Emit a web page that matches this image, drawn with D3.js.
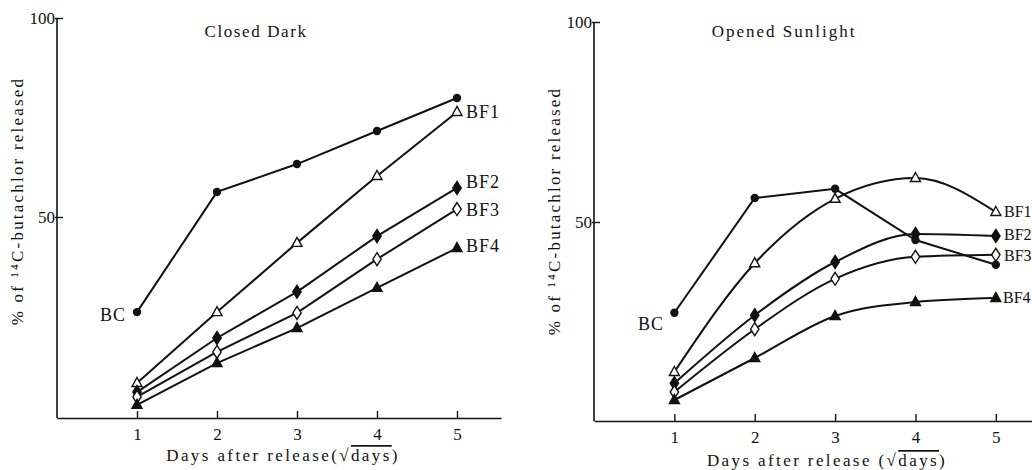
<!DOCTYPE html>
<html><head><meta charset="utf-8">
<script src="https://cdn.jsdelivr.net/npm/d3@7"></script>
<style>
body{margin:0;background:#fff;}
text{font-family:"Liberation Serif","DejaVu Serif",serif;fill:#111;}
</style></head>
<body><svg id="c" width="1032" height="470"></svg>
<script>
const days = [1, 2, 3, 4, 5];
const xTicks = [1, 2, 3, 4, 5];
const yTicks = [50, 100];
const seriesNames = ["BC", "BF1", "BF2", "BF3", "BF4"];
const seriesMarkers = ["circle", "triangleOpen", "diamond", "diamondOpen", "triangle"];
// Closed Dark
const darkBC  = [26.1, 56.3, 63.3, 71.6, 79.9];
const darkBF1 = [8.3, 26.1, 43.5, 60.3, 76.4];
const darkBF2 = [6.0, 19.6, 31.2, 45.2, 57.3];
const darkBF3 = [4.8, 16.1, 25.9, 39.4, 52.0];
const darkBF4 = [2.8, 13.3, 22.1, 32.2, 42.2];
// Opened Sunlight
const sunBC  = [27.3, 56.0, 58.3, 45.5, 39.3];
const sunBF1 = [12.5, 39.7, 55.8, 61.0, 52.5];
const sunBF2 = [9.7, 26.7, 40.0, 47.0, 46.5];
const sunBF3 = [7.5, 23.2, 35.8, 41.3, 41.8];
const sunBF4 = [5.5, 16.0, 26.5, 30.0, 31.0];

const svg = d3.select("#c");

function marker(g, type, x, y) {
  if (type === "circle") {
    g.append("circle").attr("cx", x).attr("cy", y).attr("r", 4.2).attr("fill", "#111");
  } else if (type.startsWith("triangle")) {
    const open = type.endsWith("Open");
    g.append("path").attr("d", `M${x},${y-5.5}L${x+5},${y+3.5}L${x-5},${y+3.5}Z`)
      .attr("fill", open ? "#fff" : "#111").attr("stroke", "#111").attr("stroke-width", 1.4);
  } else {
    const open = type.endsWith("Open");
    g.append("path").attr("d", `M${x},${y-6.5}L${x+4.2},${y}L${x},${y+6.5}L${x-4.2},${y}Z`)
      .attr("fill", open ? "#fff" : "#111").attr("stroke", "#111").attr("stroke-width", 1.4);
  }
}

function panel(cfg) {
  const x = d3.scaleLinear().domain([0, cfg.xMax]).range([cfg.x0, cfg.x1]);
  const y = d3.scaleLinear().domain([0, 100]).range([cfg.y0, cfg.y1]);
  const g = svg.append("g");
  const ax = g.append("g").attr("transform", `translate(0,${cfg.axisY})`)
    .call(d3.axisBottom(x).tickValues(xTicks).tickFormat(d3.format("d"))
      .tickSizeInner(-7).tickSizeOuter(0).tickPadding(10));
  ax.select(".domain").attr("stroke", "#111").attr("stroke-width", 1.6);
  ax.selectAll(".tick line").attr("stroke", "#111").attr("stroke-width", 1.4);
  ax.selectAll(".tick text").attr("font-size", 17).attr("font-family", "Liberation Serif").attr("fill", "#111");
  const ay = g.append("g").attr("transform", `translate(${cfg.x0},0)`)
    .call(d3.axisLeft(y).tickValues(yTicks).tickSizeInner(-6).tickSizeOuter(0).tickPadding(2));
  ay.select(".domain").attr("stroke", "#111").attr("stroke-width", 1.6)
    .attr("d", `M0,${cfg.axisY}V${y(100)}`);
  ay.selectAll(".tick line").attr("stroke", "#111").attr("stroke-width", 1.4).attr("x1", -2);
  ay.selectAll(".tick text").attr("font-size", 17).attr("font-family", "Liberation Serif").attr("fill", "#111");

  g.append("text").attr("x", cfg.titleX).attr("y", cfg.titleY).attr("text-anchor", "middle")
    .attr("font-size", 17).attr("letter-spacing", cfg.titleLS).text(cfg.title);
  const xt = g.append("text").attr("x", cfg.xTitleX).attr("y", cfg.xTitleY).attr("text-anchor", "middle")
    .attr("font-size", 17).attr("letter-spacing", 2.4);
  xt.append("tspan").text(cfg.xTitleA);
  xt.append("tspan").text("√");
  xt.append("tspan").style("text-decoration", "overline").text("days");
  xt.append("tspan").text(")");
  g.append("text").attr("transform", `translate(${cfg.yTitleX},${cfg.yTitleY}) rotate(-90)`)
    .attr("text-anchor", "middle").attr("font-size", 17).attr("letter-spacing", 2.2)
    .text("% of ¹⁴C-butachlor released");

  const line = d3.line().x((d, i) => x(days[i])).y(d => y(d));
  cfg.series.forEach((vals, si) => {
    const curve = (cfg.smooth && si > 0) ? d3.curveMonotoneX : d3.curveLinear;
    g.append("path").datum(vals).attr("d", line.curve(curve)).attr("fill", "none")
      .attr("stroke", "#111").attr("stroke-width", 2);
  });
  cfg.series.forEach((vals, si) => {
    vals.forEach((v, i) => marker(g, seriesMarkers[si], x(days[i]), y(v)));
  });
  cfg.labels.forEach(l => {
    g.append("text").attr("x", l.x).attr("y", l.y).attr("font-size", l.fs || 18).attr("letter-spacing", l.ls == null ? 1 : l.ls)
      .attr("dominant-baseline", "middle").attr("text-anchor", l.anchor || "start").text(l.t);
  });
}

panel({
  x0: 57, x1: 501, xMax: 5.55, y0: 416, y1: 18, axisY: 418,
  title: "Closed Dark", titleX: 256, titleY: 37, titleLS: 1.6,
  xTitleA: "Days after release(", xTitleX: 283, xTitleY: 461,
  yTitleX: 23, yTitleY: 201,
  series: [darkBC, darkBF1, darkBF2, darkBF3, darkBF4], smooth: false,
  labels: [
    {t: "BF1", x: 466, y: 114}, {t: "BF2", x: 466, y: 184}, {t: "BF3", x: 466, y: 212},
    {t: "BF4", x: 466, y: 248}, {t: "BC", x: 126, y: 317, anchor: "end"}
  ]
});
panel({
  x0: 594, x1: 1032, xMax: 5.45, y0: 422, y1: 22, axisY: 421,
  title: "Opened Sunlight", titleX: 784, titleY: 37, titleLS: 2,
  xTitleA: "Days after release (", xTitleX: 827, xTitleY: 466,
  yTitleX: 560, yTitleY: 211,
  series: [sunBC, sunBF1, sunBF2, sunBF3, sunBF4], smooth: true,
  labels: [
    {t: "BF1", x: 1004, y: 213, fs: 16, ls: 0}, {t: "BF2", x: 1004, y: 236, fs: 16, ls: 0},
    {t: "BF3", x: 1004, y: 257, fs: 16, ls: 0}, {t: "BF4", x: 1003, y: 299, fs: 16, ls: 0},
    {t: "BC", x: 664, y: 326, anchor: "end"}
  ]
});
</script></body></html>
